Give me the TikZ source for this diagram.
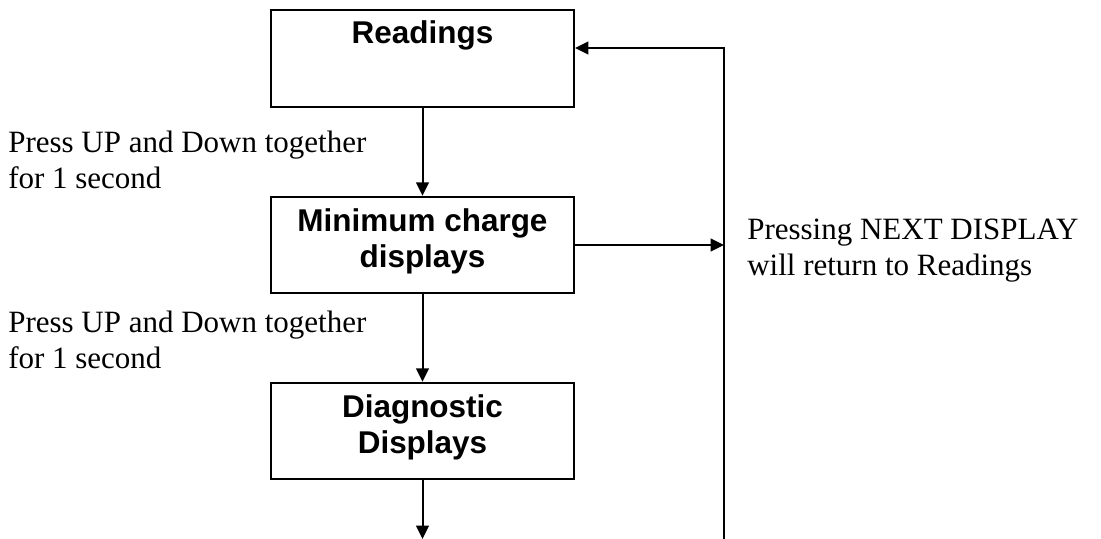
\documentclass[tikz,border=0pt]{standalone}
\usepackage{fontspec}
\setmainfont{Liberation Serif}
\newfontfamily\boxfont{Liberation Sans}
\usetikzlibrary{arrows.meta}
\begin{document}
\begin{tikzpicture}[x=0.75pt,y=-0.75pt,
  stagebox/.style={draw, line width=1.5pt, inner sep=0pt,
    minimum width=227.25pt, minimum height=72.5pt},
  stagetext/.style={anchor=base, inner sep=0pt, align=center,
    font=\boxfont\bfseries\fontsize{23.6}{26.3}\selectfont},
  note/.style={anchor=base west, inner sep=0pt, align=left,
    font=\fontsize{23.25}{26.8}\selectfont},
  flow/.style={line width=1.5pt, -{Triangle[length=10pt,width=9.5pt]}},
  plain/.style={line width=1.5pt}]
\useasboundingbox (0,0) rectangle (1101,539);
% boxes
\node[stagebox] (read) at (422.5,58.5) {};
\node[stagebox] (minc) at (422.5,245) {};
\node[stagebox] (diag) at (422.5,431) {};
% box texts (anchor = baseline of last line)
\node[stagetext] (readt) at (422.5,43) {Readings};
\node[stagetext] (minct) at (422.5,267) {Minimum charge\\displays};
\node[stagetext] (diagt) at (422.5,453) {Diagnostic\\Displays};
% side notes (anchor = baseline of last line)
\node[note] (n1) at (8,188) {Press UP and Down together\\for 1 second};
\node[note] (n2) at (8,368) {Press UP and Down together\\for 1 second};
\node[note] (n3) at (747,275) {Pressing NEXT DISPLAY\\will return to Readings};
% connectors
\coordinate (bot) at (422.5,539);
\coordinate (loopbot) at (724,539);
\coordinate (looptop) at (724,48);
\draw[flow] (read.south) -- (minc.north);
\draw[flow] (minc.south) -- (diag.north);
\draw[flow] (diag.south) -- (bot);
\draw[flow] (minc.east) -- (minc.east -| looptop);
\draw[flow] (loopbot) -- (looptop) -- (read.east |- looptop);
\end{tikzpicture}
\end{document}
